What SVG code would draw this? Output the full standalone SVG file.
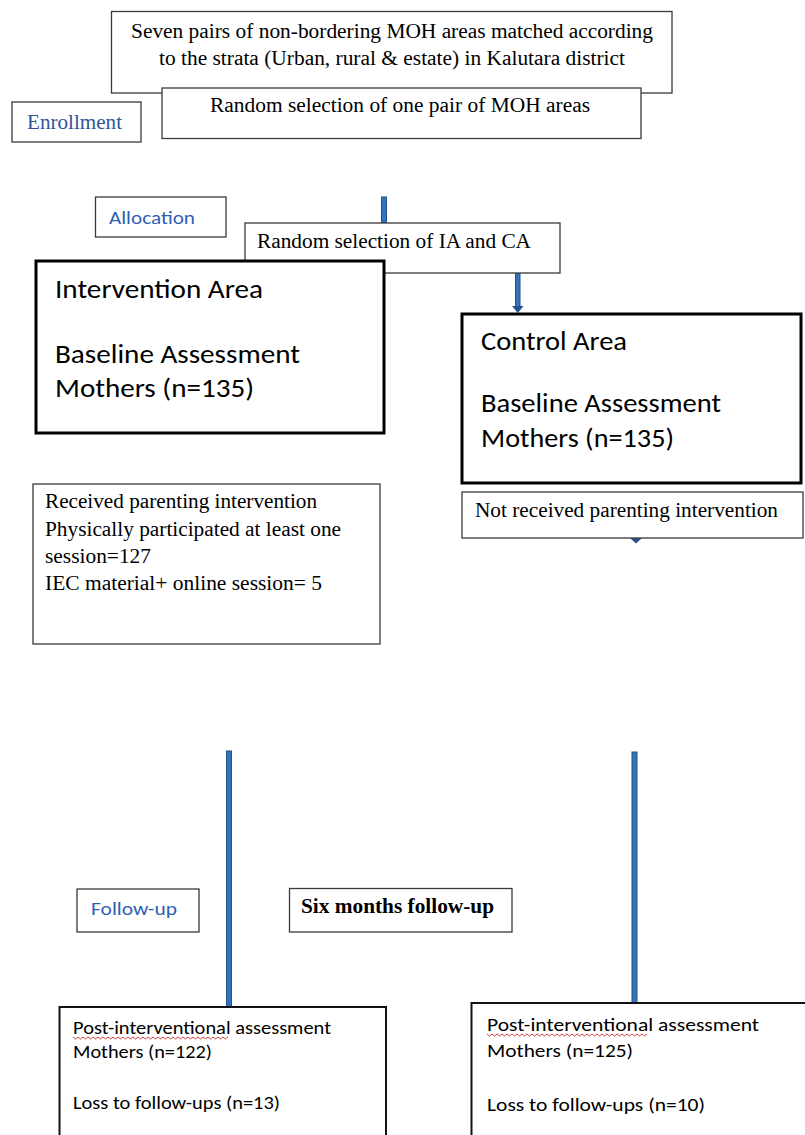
<svg xmlns="http://www.w3.org/2000/svg" width="805" height="1135" viewBox="0 0 805 1135">
<style>
.bx{fill:#fff;stroke:#3a3a3a;stroke-width:1.3}
.thick{fill:#fff;stroke:#000;stroke-width:3}
.med{fill:#fff;stroke:#111;stroke-width:2}
.tm{font-family:"Liberation Serif","Times New Roman",serif;font-size:20px;fill:#000}
.cb{font-family:Carlito,Lato,"Liberation Sans",sans-serif;fill:#000}
.lbl{font-family:Carlito,Lato,"Liberation Sans",sans-serif;font-size:19px;fill:#2f5fb3}
.lblt{font-family:"Liberation Serif","Times New Roman",serif;font-size:20px;fill:#2f5597}
.bar{fill:#3572bd;stroke:#24528c;stroke-width:1}
.sq{fill:none;stroke:#d04040;stroke-width:1}
</style>
<g id="connectors">
<rect class="bar" x="381.5" y="197" width="5" height="26"/>
<rect class="bar" x="515.5" y="273" width="4.5" height="34"/>
<polygon points="512,306 523.5,306 517.8,313" fill="#24528c"/>
<polygon points="630,538 642,538 636,543.5" fill="#24528c"/>
<rect class="bar" x="226.5" y="751" width="5" height="256"/>
<rect class="bar" x="632" y="752" width="5" height="251"/>
</g>
<g id="stage-enrollment">
<rect class="bx" x="12" y="102" width="129" height="40"/>
<text class="lblt" x="27" y="129" textLength="95" lengthAdjust="spacingAndGlyphs">Enrollment</text>
</g>
<g id="node-seven-pairs">
<rect class="bx" x="111.5" y="11.5" width="560.5" height="81.5"/>
<text class="tm" x="131" y="38" textLength="522" lengthAdjust="spacingAndGlyphs">Seven pairs of non-bordering MOH areas matched according</text>
<text class="tm" x="159" y="65" textLength="466" lengthAdjust="spacingAndGlyphs">to the strata (Urban, rural &amp; estate) in Kalutara district</text>
</g>
<g id="node-random-pair">
<rect class="bx" x="162" y="88" width="479" height="50.5"/>
<text class="tm" x="210" y="112" textLength="380" lengthAdjust="spacingAndGlyphs">Random selection of one pair of MOH areas</text>
</g>
<g id="stage-allocation">
<rect class="bx" x="95.5" y="197" width="130.5" height="40"/>
<text class="lbl" x="109" y="224" textLength="86" lengthAdjust="spacingAndGlyphs">Allocation</text>
</g>
<g id="node-random-ia-ca">
<rect class="bx" x="245" y="223" width="315" height="50"/>
<text class="tm" x="257" y="248" textLength="274" lengthAdjust="spacingAndGlyphs">Random selection of IA and CA</text>
</g>
<g id="node-intervention">
<rect class="thick" x="36" y="261" width="348" height="172"/>
<text class="cb" font-size="26" x="55" y="298" textLength="208" lengthAdjust="spacingAndGlyphs">Intervention Area</text>
<text class="cb" font-size="26" x="55" y="363" textLength="245" lengthAdjust="spacingAndGlyphs">Baseline Assessment</text>
<text class="cb" font-size="26" x="55" y="397" textLength="199" lengthAdjust="spacingAndGlyphs">Mothers (n=135)</text>
</g>
<g id="node-control">
<rect class="thick" x="462" y="314" width="339" height="169"/>
<text class="cb" font-size="26" x="481" y="350" textLength="146" lengthAdjust="spacingAndGlyphs">Control Area</text>
<text class="cb" font-size="26" x="481" y="412" textLength="240" lengthAdjust="spacingAndGlyphs">Baseline Assessment</text>
<text class="cb" font-size="26" x="481" y="447" textLength="193" lengthAdjust="spacingAndGlyphs">Mothers (n=135)</text>
</g>
<g id="node-received">
<rect class="bx" x="33" y="484" width="347" height="160" stroke-width="1"/>
<text class="tm" x="45" y="508" textLength="272" lengthAdjust="spacingAndGlyphs">Received parenting intervention</text>
<text class="tm" x="45" y="536" textLength="296" lengthAdjust="spacingAndGlyphs">Physically participated at least one</text>
<text class="tm" x="45" y="563" textLength="106" lengthAdjust="spacingAndGlyphs">session=127</text>
<text class="tm" x="45" y="590" textLength="277" lengthAdjust="spacingAndGlyphs">IEC material+ online session= 5</text>
</g>
<g id="node-not-received">
<rect class="bx" x="462" y="492" width="341" height="46"/>
<text class="tm" x="475" y="517" textLength="303" lengthAdjust="spacingAndGlyphs">Not received parenting intervention</text>
</g>
<g id="stage-followup">
<rect class="bx" x="77" y="889" width="122" height="43"/>
<text class="lbl" x="91" y="915" textLength="86" lengthAdjust="spacingAndGlyphs">Follow-up</text>
</g>
<g id="node-six-months">
<rect class="bx" x="289.5" y="888.5" width="222.5" height="43.5"/>
<text class="tm" font-weight="bold" x="301" y="913" textLength="193" lengthAdjust="spacingAndGlyphs">Six months follow-up</text>
</g>
<g id="node-post-ia">
<rect class="med" x="59.5" y="1007" width="326.5" height="140"/>
<text class="cb" font-size="19" x="73" y="1034" textLength="258" lengthAdjust="spacingAndGlyphs">Post-interventional assessment</text>
<path class="sq" d="M73,1037 l2.5,2 l2.5,-2 l2.5,2 l2.5,-2 l2.5,2 l2.5,-2 l2.5,2 l2.5,-2 l2.5,2 l2.5,-2 l2.5,2 l2.5,-2 l2.5,2 l2.5,-2 l2.5,2 l2.5,-2 l2.5,2 l2.5,-2 l2.5,2 l2.5,-2 l2.5,2 l2.5,-2 l2.5,2 l2.5,-2 l2.5,2 l2.5,-2 l2.5,2 l2.5,-2 l2.5,2 l2.5,-2 l2.5,2 l2.5,-2 l2.5,2 l2.5,-2 l2.5,2 l2.5,-2 l2.5,2 l2.5,-2 l2.5,2 l2.5,-2 l2.5,2 l2.5,-2 l2.5,2 l2.5,-2 l2.5,2 l2.5,-2 l2.5,2 l2.5,-2 l2.5,2 l2.5,-2 l2.5,2 l2.5,-2 l2.5,2 l2.5,-2 l2.5,2 l2.5,-2 l2.5,2 l2.5,-2 l2.5,2 l2.5,-2 l2.5,2 l2.5,-2"/>
<text class="cb" font-size="19" x="73" y="1058" textLength="139" lengthAdjust="spacingAndGlyphs">Mothers (n=122)</text>
<text class="cb" font-size="19" x="73" y="1109" textLength="207" lengthAdjust="spacingAndGlyphs">Loss to follow-ups (n=13)</text>
</g>
<g id="node-post-ca">
<rect class="med" x="471.5" y="1003" width="340" height="140"/>
<text class="cb" font-size="19" x="487" y="1031" textLength="272" lengthAdjust="spacingAndGlyphs">Post-interventional assessment</text>
<path class="sq" d="M487,1034 l2.5,2 l2.5,-2 l2.5,2 l2.5,-2 l2.5,2 l2.5,-2 l2.5,2 l2.5,-2 l2.5,2 l2.5,-2 l2.5,2 l2.5,-2 l2.5,2 l2.5,-2 l2.5,2 l2.5,-2 l2.5,2 l2.5,-2 l2.5,2 l2.5,-2 l2.5,2 l2.5,-2 l2.5,2 l2.5,-2 l2.5,2 l2.5,-2 l2.5,2 l2.5,-2 l2.5,2 l2.5,-2 l2.5,2 l2.5,-2 l2.5,2 l2.5,-2 l2.5,2 l2.5,-2 l2.5,2 l2.5,-2 l2.5,2 l2.5,-2 l2.5,2 l2.5,-2 l2.5,2 l2.5,-2 l2.5,2 l2.5,-2 l2.5,2 l2.5,-2 l2.5,2 l2.5,-2 l2.5,2 l2.5,-2 l2.5,2 l2.5,-2 l2.5,2 l2.5,-2 l2.5,2 l2.5,-2 l2.5,2 l2.5,-2 l2.5,2 l2.5,-2 l2.5,2 l2.5,-2"/>
<text class="cb" font-size="19" x="487" y="1057" textLength="146" lengthAdjust="spacingAndGlyphs">Mothers (n=125)</text>
<text class="cb" font-size="19" x="487" y="1111" textLength="218" lengthAdjust="spacingAndGlyphs">Loss to follow-ups (n=10)</text>
</g>
</svg>
